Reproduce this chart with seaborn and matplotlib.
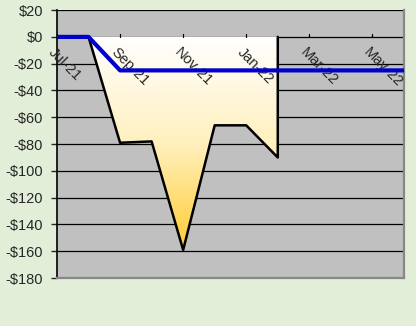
import matplotlib
matplotlib.use('Agg')
import matplotlib.pyplot as plt
from matplotlib.colors import LinearSegmentedColormap
import numpy as np
import pandas as pd
import seaborn as sns

# data
months = ['Jul-21', 'Aug-21', 'Sep-21', 'Oct-21', 'Nov-21', 'Dec-21',
          'Jan-22', 'Feb-22', 'Mar-22', 'Apr-22', 'May-22', 'Jun-22']
drawdown = [0, 0, -79, -78, -159, -66, -66, -90]          # Jul-21 .. Feb-22
target = [0, 0, -25, -25, -25, -25, -25, -25, -25, -25, -25, -25]
tick_labels = ['Jul-21', 'Sep-21', 'Nov-21', 'Jan-22', 'Mar-22', 'May-22']
y_ticks = list(range(-180, 21, 20))

sns.set_style('white')
plt.rcParams['font.family'] = ['Liberation Sans', 'DejaVu Sans']

bg = '#E3EED9'
fig = plt.figure(figsize=(4.16, 3.26), dpi=100, facecolor=bg)
ax = fig.add_axes([0.137, 0.147, 0.834, 0.822])
ax.set_facecolor('#C0C0C0')

x_all = np.arange(len(months))
x_dd = np.arange(len(drawdown))
df_dd = pd.DataFrame({'x': x_dd, 'v': drawdown})
df_t = pd.DataFrame({'x': x_all, 'v': target})

# gridlines
for yv in y_ticks:
    ax.axhline(yv, color='black', lw=0.9, zorder=1)

# gradient area
poly = ax.fill_between(df_dd['x'], df_dd['v'], 0, color='none', zorder=2)
cmap = LinearSegmentedColormap.from_list('g', ['#FFFFFF', '#FFF0BE', '#FFCC33'])
grad = np.linspace(0, 1, 256).reshape(-1, 1)
im = ax.imshow(grad, cmap=cmap, aspect='auto', origin='upper',
               extent=[x_dd[0], x_dd[-1], min(drawdown), 0], zorder=2)
im.set_clip_path(poly.get_paths()[0], transform=ax.transData)

# outline of the area
xs = list(df_dd['x']) + [x_dd[-1]]
ys = list(df_dd['v']) + [0]
ax.plot(xs, ys, color='black', lw=1.8, zorder=3)

sns.lineplot(data=df_t, x='x', y='v', color='#0000CC', lw=3, ax=ax, zorder=5)

ax.set_xlim(0, len(months) - 1)
ax.set_ylim(-180, 20)
ax.set_yticks(y_ticks)
ax.set_yticklabels([f'${v}' if v >= 0 else f'-${-v}' for v in y_ticks], fontsize=10.5)
ax.tick_params(axis='y', direction='out', length=4, width=1, pad=6, left=True)
ax.set_xticks([])
ax.set_xlabel('')
ax.set_ylabel('')

# month ticks on the zero line and rotated labels
for i, m in enumerate(months):
    if m in tick_labels:
        ax.plot([i, i], [0, 1.8], color='black', lw=0.9, zorder=4, clip_on=False)
        ax.annotate(m, xy=(i, 0), xytext=(-1, -6), textcoords='offset points',
                    rotation=-45, rotation_mode='anchor', ha='left', va='top',
                    fontsize=10.5, zorder=4)

ax.spines['top'].set_visible(False)
ax.spines['left'].set_color('black')
ax.spines['left'].set_linewidth(1.2)
ax.spines['bottom'].set_color('#888888')
ax.spines['bottom'].set_linewidth(1.6)
ax.spines['right'].set_color('#888888')
ax.spines['right'].set_linewidth(1.6)

fig.savefig('out.png', dpi=100, facecolor=bg)
